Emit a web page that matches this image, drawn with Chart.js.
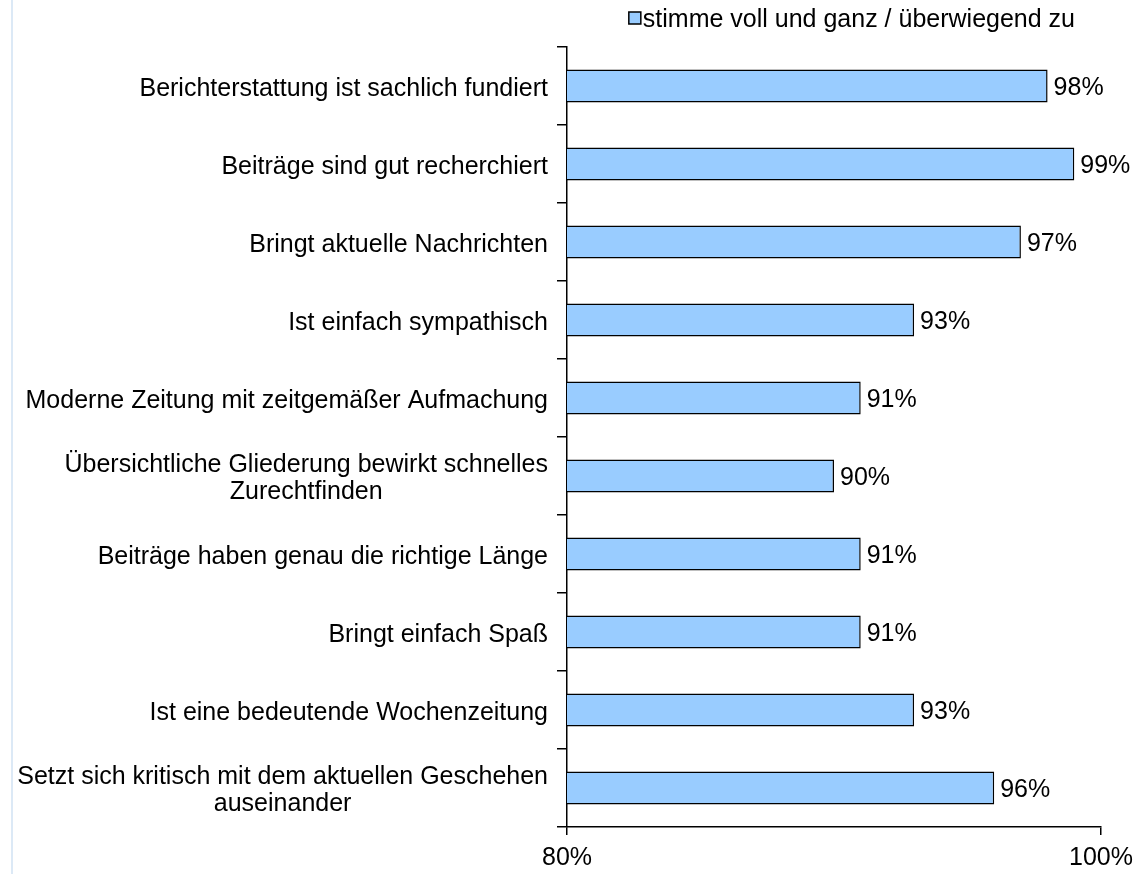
<!DOCTYPE html>
<html>
<head>
<meta charset="utf-8">
<script src="https://cdn.jsdelivr.net/npm/chart.js@4/dist/chart.umd.min.js"></script>
<style>
  html, body { margin: 0; padding: 0; background: #ffffff; }
  #wrap { position: relative; width: 1133px; height: 874px; }
  #edge { position: absolute; left: 11px; top: 0; width: 2px; height: 874px; background: #dce9f6; }
</style>
</head>
<body>
<div id="wrap">
  <div id="edge"></div>
  <canvas id="chart" width="1133" height="874"></canvas>
</div>
<script>
// Données du graphique
const categories = [
    'Berichterstattung ist sachlich fundiert',
    'Beiträge sind gut recherchiert',
    'Bringt aktuelle Nachrichten',
    'Ist einfach sympathisch',
    'Moderne Zeitung mit zeitgemäßer Aufmachung',
    ['Übersichtliche Gliederung bewirkt schnelles', 'Zurechtfinden'],
    'Beiträge haben genau die richtige Länge',
    'Bringt einfach Spaß',
    'Ist eine bedeutende Wochenzeitung',
    ['Setzt sich kritisch mit dem aktuellen Geschehen', 'auseinander']
];
const values = [98, 99, 97, 93, 91, 90, 91, 91, 93, 96];
const seriesLabel = 'stimme voll und ganz / überwiegend zu';
const xMin = 80;
const xMax = 100;
const xStep = 20;

const FONT = 'Arial, "Liberation Sans", sans-serif';
const FONT_SIZE = 25;

// Libellés de l'axe Y (lignes multiples centrées, simples alignées à droite)
const yLabelsPlugin = {
    id: 'yLabels',
    afterDraw(chart) {
        const ctx = chart.ctx;
        const scale = chart.scales.y;
        const rightX = scale.right - 10 - 9;
        ctx.save();
        ctx.font = FONT_SIZE + 'px ' + FONT;
        ctx.fillStyle = '#000000';
        ctx.textBaseline = 'middle';
        const lineHeight = 27;
        categories.forEach((label, i) => {
            const lines = Array.isArray(label) ? label : [label];
            const yc = scale.getPixelForTick(i) + 3;
            const widest = Math.max(...lines.map(l => ctx.measureText(l).width));
            lines.forEach((line, j) => {
                const y = yc + (j - (lines.length - 1) / 2) * lineHeight;
                if (lines.length > 1) {
                    ctx.textAlign = 'center';
                    ctx.fillText(line, rightX - widest / 2, y);
                } else {
                    ctx.textAlign = 'right';
                    ctx.fillText(line, rightX, y);
                }
            });
        });
        ctx.restore();
    }
};

// Valeurs au bout des barres
const valueLabelsPlugin = {
    id: 'valueLabels',
    afterDatasetsDraw(chart) {
        const ctx = chart.ctx;
        const meta = chart.getDatasetMeta(0);
        ctx.save();
        ctx.font = FONT_SIZE + 'px ' + FONT;
        ctx.fillStyle = '#000000';
        ctx.textAlign = 'left';
        ctx.textBaseline = 'middle';
        meta.data.forEach((bar, i) => {
            ctx.fillText(values[i] + '%', bar.x + 6, bar.y + 2);
        });
        ctx.restore();
    }
};

// Légende dessinée au-dessus du graphique
const legendPlugin = {
    id: 'customLegend',
    afterDraw(chart) {
        const ctx = chart.ctx;
        ctx.save();
        ctx.font = FONT_SIZE + 'px ' + FONT;
        const textW = ctx.measureText(seriesLabel).width;
        const textRight = 1075;
        const textX = textRight - textW;
        const boxSize = 12;
        const boxX = textX - boxSize - 2;
        const boxY = 12;
        ctx.fillStyle = '#99ccff';
        ctx.fillRect(boxX, boxY, boxSize, boxSize);
        ctx.strokeStyle = '#000000';
        ctx.lineWidth = 1.5;
        ctx.strokeRect(boxX, boxY, boxSize, boxSize);
        ctx.fillStyle = '#000000';
        ctx.textAlign = 'left';
        ctx.textBaseline = 'middle';
        ctx.fillText(seriesLabel, textX, boxY + boxSize / 2 + 2);
        ctx.restore();
    }
};

const ctx = document.getElementById('chart').getContext('2d');
new Chart(ctx, {
    type: 'bar',
    data: {
        labels: categories,
        datasets: [{
            label: seriesLabel,
            data: values,
            backgroundColor: '#99ccff',
            borderColor: '#000000',
            borderWidth: 1.5,
            borderSkipped: false,
            categoryPercentage: 1,
            barPercentage: 0.42
        }]
    },
    options: {
        indexAxis: 'y',
        responsive: false,
        animation: false,
        layout: {
            padding: { top: 47, right: 32, left: 0, bottom: 0 }
        },
        plugins: {
            legend: { display: false },
            tooltip: { enabled: false }
        },
        scales: {
            x: {
                min: xMin,
                max: xMax,
                afterBuildTicks(scale) {
                    const t = [];
                    for (let v = xMin; v <= xMax; v += xStep) t.push({ value: v });
                    scale.ticks = t;
                },
                afterFit(scale) {
                    scale.height = 47;
                    scale.paddingLeft = 0;
                    scale.paddingRight = 0;
                },
                border: { display: true, color: '#000000', width: 1.5 },
                grid: {
                    drawOnChartArea: false,
                    drawTicks: true,
                    tickLength: 8,
                    color: '#000000',
                    lineWidth: 1.5
                },
                ticks: {
                    color: '#000000',
                    padding: 8,
                    maxRotation: 0,
                    font: { family: FONT, size: FONT_SIZE },
                    callback: v => v + '%'
                }
            },
            y: {
                afterFit(scale) { scale.width = 567; },
                border: { display: true, color: '#000000', width: 1.5 },
                grid: {
                    offset: true,
                    drawOnChartArea: false,
                    drawTicks: true,
                    tickLength: 10,
                    color: '#000000',
                    lineWidth: 1.5
                },
                ticks: { display: false }
            }
        }
    },
    plugins: [yLabelsPlugin, valueLabelsPlugin, legendPlugin]
});
</script>
</body>
</html>
